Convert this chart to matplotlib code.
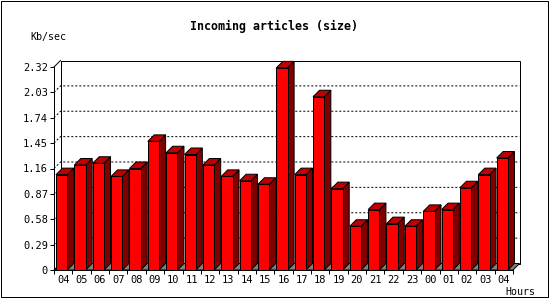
import matplotlib
matplotlib.use("Agg")
import matplotlib.pyplot as plt
from matplotlib.patches import Polygon, Rectangle

hours = ["04", "05", "06", "07", "08", "09", "10", "11", "12", "13", "14", "15",
         "16", "17", "18", "19", "20", "21", "22", "23", "00", "01", "02", "03", "04"]
kb_per_sec = [1.09, 1.20, 1.22, 1.07, 1.16, 1.47, 1.34, 1.32, 1.20, 1.07, 1.02, 0.98,
              2.31, 1.09, 1.98, 0.93, 0.50, 0.69, 0.53, 0.50, 0.67, 0.69, 0.94, 1.09, 1.28]
y_ticks = [0, 0.29, 0.58, 0.87, 1.16, 1.45, 1.74, 2.03, 2.32]
y_tick_labels = ["0", "0.29", "0.58", "0.87", "1.16", "1.45", "1.74", "2.03", "2.32"]

W, H, DPI = 550, 300, 100
PX = 72 / DPI  # one pixel in points

fig = plt.figure(figsize=(W / DPI, H / DPI), dpi=DPI)
fig.patch.set_facecolor("white")

# front plane of the plot, in pixels
left, base, width, height = 54, 270, 459, 203
ax = fig.add_axes([left / W, 1 - base / H, width / W, height / H])
n = len(hours)
ymax = y_ticks[-1]
ax.set_xlim(0, n)
ax.set_ylim(0, ymax)
ax.patch.set_visible(False)

# depth of the 3d effect in data units
depth_px = 6.5
dx = depth_px / width * n
dy = depth_px / height * ymax
slot_px = width / n
bar_off = 2.0 / slot_px
bar_w = 11.3 / slot_px

# back wall
ax.add_patch(Rectangle((dx, dy), n, ymax, facecolor="white", edgecolor="black",
                       lw=PX, clip_on=False, zorder=0))
# floor
ax.add_patch(Polygon([(0, 0), (n, 0), (n + dx, dy), (dx, dy)], closed=True,
                     facecolor="#808080", edgecolor="black", lw=PX,
                     clip_on=False, zorder=1))
# dotted grid lines on the wall
for v in y_ticks[1:-1]:
    ax.plot([0, dx, n + dx], [v, v + dy, v + dy], color="black", lw=PX,
            linestyle=(0, (2, 2)), clip_on=False, zorder=1)
# top corner of the front axis
ax.plot([0, dx], [ymax, ymax + dy], color="black", lw=PX, clip_on=False, zorder=2)

for i, v in enumerate(kb_per_sec):
    x0 = i + bar_off
    x1 = x0 + bar_w
    ax.add_patch(Polygon([(x1, 0), (x1 + dx, dy), (x1 + dx, v + dy), (x1, v)],
                         closed=True, facecolor="#800000", edgecolor="black",
                         lw=PX, clip_on=False, zorder=3))
    ax.add_patch(Polygon([(x0, v), (x1, v), (x1 + dx, v + dy), (x0 + dx, v + dy)],
                         closed=True, facecolor="#C00000", edgecolor="black",
                         lw=PX, clip_on=False, zorder=3))
    ax.add_patch(Rectangle((x0, 0), bar_w, v, facecolor="#FF0000",
                           edgecolor="black", lw=PX, clip_on=False, zorder=4))

for side in ["top", "right"]:
    ax.spines[side].set_visible(False)
for side in ["left", "bottom"]:
    ax.spines[side].set_linewidth(PX)
    ax.spines[side].set_zorder(5)

ax.set_yticks(y_ticks)
ax.set_yticklabels(y_tick_labels, family="DejaVu Sans Mono", fontsize=7.5)
ax.tick_params(axis="y", direction="out", length=4 * PX, width=PX, pad=2 * PX)

ax.set_xticks([i + 0.5 for i in range(n)])
ax.set_xticklabels(hours, family="DejaVu Sans Mono", fontsize=7.5)
ax.set_xticks(range(n + 1), minor=True)
ax.tick_params(axis="x", which="major", length=0, pad=5 * PX)
ax.tick_params(axis="x", which="minor", direction="out", length=4 * PX, width=PX)

fig.text(274 / W, 1 - 26.5 / H, "Incoming articles (size)", ha="center", va="center",
         family="DejaVu Sans Mono", fontweight="bold", fontsize=8.4)
fig.text(30 / W, 1 - 37 / H, "Kb/sec", ha="left", va="center",
         family="DejaVu Sans Mono", fontsize=7.2)
fig.text(505 / W, 1 - 292 / H, "Hours", ha="left", va="center",
         family="DejaVu Sans Mono", fontsize=7.2)

# frame around the whole image
fig.add_artist(Rectangle((0.5 / W, 3.5 / H), 547 / W, 296 / H, transform=fig.transFigure,
                         fill=False, edgecolor="black", lw=PX))

fig.savefig("out.png", dpi=DPI)
